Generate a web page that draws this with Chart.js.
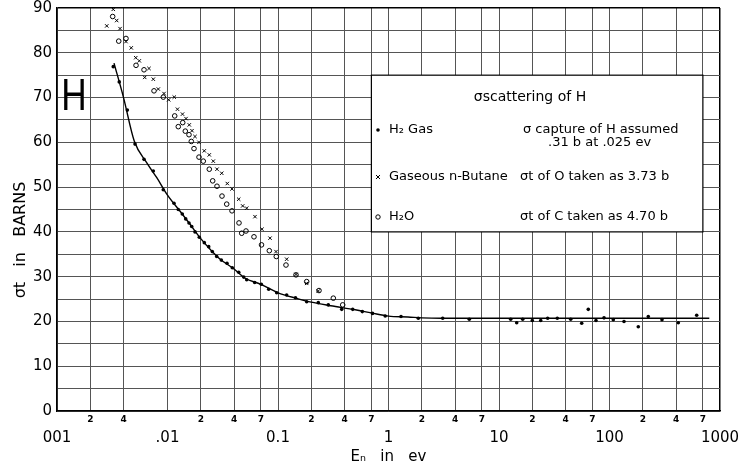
<!DOCTYPE html>
<html>
<head>
<meta charset="utf-8">
<script src="https://cdn.jsdelivr.net/npm/chart.js@4.4.1/dist/chart.umd.min.js"></script>
<style>
  html, body { margin: 0; padding: 0; background: #fff; }
</style>
</head>
<body>
<canvas id="sigma-h" width="744" height="466"></canvas>

<script>
// H2 gas (dots)
const h2Energy = [0.00323, 0.00366, 0.00433, 0.00508, 0.00613, 0.00744, 0.00916, 0.01145, 0.01252, 0.01361,
  0.01461, 0.01565, 0.01656, 0.01774, 0.0194, 0.02153, 0.0236, 0.02543, 0.02788, 0.03069,
  0.03454, 0.03858, 0.0441, 0.04893, 0.05208, 0.06152, 0.07063, 0.08237, 0.09732, 0.1198,
  0.144, 0.1818, 0.2315, 0.2852, 0.3771, 0.4743, 0.5794, 0.7165, 0.9335, 1.298,
  1.861, 3.094, 5.384, 12.76, 14.46, 16.39, 20.02, 23.85, 27.58, 33.7,
  44.56, 56.03, 64.29, 75.47, 89.19, 108.2, 135.3, 182.2, 224.4, 298.6, 419.4, 615.2];
const h2Sigma = [76.9, 73.5, 67.2, 59.6, 56.2, 53.6, 49.4, 46.4, 45.0, 44.0,
  42.9, 42.0, 41.2, 40.0, 38.8, 37.6, 36.7, 35.6, 34.5, 33.7,
  33.0, 32.0, 31.0, 29.9, 29.3, 28.7, 28.3, 27.2, 26.4, 25.9,
  25.3, 24.4, 24.2, 23.7, 22.7, 22.7, 22.2, 21.8, 21.2, 21.1,
  20.7, 20.7, 20.5, 20.5, 19.7, 20.5, 20.2, 20.2, 20.7, 20.7,
  20.5, 19.6, 22.7, 20.2, 20.8, 20.4, 20.0, 18.8, 21.1, 20.4, 19.7, 21.4];

// gaseous n-butane (crosses)
const butaneEnergy = [0.00282, 0.00323, 0.00347, 0.00372, 0.00421, 0.0047, 0.00516, 0.00556, 0.00622, 0.0068,
  0.00744, 0.00826, 0.0093, 0.01025, 0.01152, 0.01231, 0.01367, 0.01471, 0.01575, 0.01666,
  0.01774, 0.01928, 0.02153, 0.02389, 0.02597, 0.02805, 0.03095, 0.03475, 0.03834, 0.0441,
  0.0479, 0.05208, 0.06192, 0.07166, 0.08467, 0.09592, 0.1198, 0.1455, 0.1818, 0.2315];
const butaneSigma = [86.0, 89.7, 87.2, 85.4, 82.5, 81.1, 78.9, 78.2, 74.5, 76.5,
  74.1, 71.9, 70.9, 69.5, 70.1, 67.4, 66.3, 65.3, 63.9, 62.6,
  61.3, 60.0, 58.1, 57.2, 55.8, 54.0, 53.1, 50.8, 49.6, 47.3,
  45.8, 45.3, 43.4, 40.6, 38.6, 35.6, 33.9, 30.5, 28.5, 26.8];

// H2O (open circles)
const waterEnergy = [0.00319, 0.00362, 0.00421, 0.00519, 0.00613, 0.00755, 0.00916, 0.01162, 0.01252, 0.01373,
  0.01449, 0.01565, 0.01642, 0.01737, 0.01928, 0.02108, 0.02389, 0.02564, 0.02805, 0.03113,
  0.03434, 0.03834, 0.04437, 0.04693, 0.05133, 0.06063, 0.07092, 0.08345, 0.09651, 0.1181,
  0.1455, 0.1818, 0.235, 0.3166, 0.385];
const waterSigma = [88.1, 82.6, 83.2, 77.2, 76.2, 71.5, 70.1, 65.9, 63.5, 64.4,
  62.5, 61.7, 60.2, 58.6, 56.7, 55.8, 54.0, 51.4, 50.2, 48.0,
  46.2, 44.7, 42.0, 39.7, 40.2, 38.9, 37.1, 35.8, 34.5, 32.6,
  30.4, 28.9, 26.9, 25.2, 23.7];

// hand-drawn curve through the H2 points
const fitEnergy = [0.00328, 0.004, 0.005, 0.0065, 0.008, 0.01, 0.013, 0.016, 0.02, 0.025, 0.03, 0.04, 0.05, 0.07,
  0.1, 0.15, 0.2, 0.3, 0.5, 0.7, 1, 1.5, 2, 3, 10, 100, 800];
const fitSigma = [77.7, 70.0, 60.3, 55.4, 52.1, 48.2, 44.6, 41.7, 38.5, 35.8, 33.9, 31.7, 29.7, 28.3,
  26.4, 25.1, 24.3, 23.5, 22.6, 21.9, 21.2, 21.0, 20.8, 20.7, 20.7, 20.7, 20.7];

// axis ticks
const gridEnergy = [0.001, 0.002, 0.004, 0.01, 0.02, 0.04, 0.07, 0.1, 0.2, 0.4, 0.7, 1, 2, 4, 7,
  10, 20, 40, 70, 100, 200, 400, 700, 1000];
const decadeEnergy = [0.001, 0.01, 0.1, 1, 10, 100, 1000];
const decadeLabels = ['001', '.01', '0.1', '1', '10', '100', '1000'];

const pairs = (xs, ys) => xs.map((x, i) => ({x: x, y: ys[i]}));

// white note box with the legend, plus the big "H"
const noteBox = {
  id: 'noteBox',
  beforeDatasetsDraw(chart) {
    const {ctx, scales: {x, y}} = chart;
    const l = x.getPixelForValue(0.7), r = x.getPixelForValue(700);
    const t = y.getPixelForValue(75), b = y.getPixelForValue(40);
    ctx.save();
    ctx.fillStyle = '#fff';
    ctx.fillRect(l, t, r - l, b - t);
    ctx.strokeStyle = '#000';
    ctx.lineWidth = 1.2;
    ctx.strokeRect(l, t, r - l, b - t);

    ctx.fillStyle = '#000';
    ctx.textBaseline = 'middle';
    ctx.font = '14px "DejaVu Sans"';
    ctx.textAlign = 'center';
    ctx.fillText('σscattering of H', 530, 97);

    ctx.textAlign = 'left';
    ctx.font = '13px "DejaVu Sans"';
    ctx.fillText('H₂ Gas', 389, 130);
    ctx.fillText('σ capture of H assumed', 523, 130);
    ctx.fillText('.31 b at .025 ev', 548, 143);
    ctx.fillText('Gaseous n-Butane', 389, 177);
    ctx.fillText('σt of O taken as 3.73 b', 520, 177);
    ctx.fillText('H₂O', 389, 217);
    ctx.fillText('σt of C taken as 4.70 b', 520, 217);

    // legend markers
    ctx.beginPath();
    ctx.arc(378, 130, 1.8, 0, Math.PI * 2);
    ctx.fill();
    ctx.lineWidth = 1;
    ctx.beginPath();
    ctx.moveTo(376, 175); ctx.lineTo(380, 179);
    ctx.moveTo(380, 175); ctx.lineTo(376, 179);
    ctx.stroke();
    ctx.beginPath();
    ctx.arc(378, 217, 2.2, 0, Math.PI * 2);
    ctx.stroke();

    // big H
    ctx.font = '44px "Liberation Sans"';
    ctx.textAlign = 'center';
    ctx.translate(74, 98);
    ctx.scale(0.8, 1);
    ctx.fillText('H', 0, 0);
    ctx.restore();
  }
};

new Chart(document.getElementById('sigma-h'), {
  type: 'scatter',
  data: {
    datasets: [
      {
        label: 'fit',
        type: 'line',
        data: pairs(fitEnergy, fitSigma),
        borderColor: '#000',
        borderWidth: 1.4,
        pointRadius: 0,
        cubicInterpolationMode: 'monotone',
        fill: false
      },
      {
        label: 'H₂ Gas',
        data: pairs(h2Energy, h2Sigma),
        pointStyle: 'circle',
        pointRadius: 1.8,
        backgroundColor: '#000',
        borderColor: '#000',
        borderWidth: 0
      },
      {
        label: 'Gaseous n-Butane',
        data: pairs(butaneEnergy, butaneSigma),
        pointStyle: 'crossRot',
        pointRadius: 2.4,
        borderColor: '#000',
        borderWidth: 1
      },
      {
        label: 'H₂O',
        data: pairs(waterEnergy, waterSigma),
        pointStyle: 'circle',
        pointRadius: 2.3,
        backgroundColor: 'rgba(255,255,255,0)',
        borderColor: '#000',
        borderWidth: 1
      }
    ]
  },
  options: {
    responsive: false,
    animation: false,
    layout: { padding: { top: 8, right: 24, left: 0, bottom: 0 } },
    plugins: {
      legend: { display: false },
      tooltip: { enabled: false }
    },
    scales: {
      x: {
        type: 'logarithmic',
        position: 'bottom',
        weight: 0,
        min: 0.001,
        max: 1000,
        afterBuildTicks: (axis) => { axis.ticks = gridEnergy.map(v => ({value: v})); },
        afterFit: (axis) => { axis.height = 18; },
        grid: {
          color: (c) => (c.tick && c.tick.value === 1000) ? '#000' : '#555',
          lineWidth: (c) => (c.tick && c.tick.value === 1000) ? 1.5 : 1,
          drawTicks: false
        },
        border: { color: '#000', width: 1.5 },
        ticks: {
          autoSkip: false,
          maxRotation: 0,
          padding: 3,
          color: '#000',
          font: { family: 'DejaVu Sans', size: 9, weight: 'bold' },
          callback: (v) => decadeEnergy.includes(v) ? '' : String(Number(v.toPrecision(1))).replace(/^0\.0*|0+$/g, '').replace('.', '')
        }
      },
      x2: {
        type: 'logarithmic',
        position: 'bottom',
        weight: 1,
        min: 0.001,
        max: 1000,
        afterBuildTicks: (axis) => { axis.ticks = decadeEnergy.map(v => ({value: v})); },
        afterFit: (axis) => { axis.height = 37; },
        grid: { display: false, drawTicks: false },
        border: { display: false },
        ticks: {
          autoSkip: false,
          maxRotation: 0,
          padding: 0,
          color: '#000',
          font: { family: 'DejaVu Sans', size: 15 },
          callback: (v) => decadeLabels[decadeEnergy.indexOf(v)]
        },
        title: {
          display: true,
          text: 'Eₙ   in   ev',
          color: '#000',
          padding: 0,
          font: { family: 'DejaVu Sans', size: 15 }
        }
      },
      y: {
        min: 0,
        max: 90,
        afterFit: (axis) => { axis.width = 57; axis.paddingTop = 0; axis.paddingBottom = 0; },
        grid: {
          color: (c) => (c.tick && c.tick.value === 90) ? '#000' : '#555',
          lineWidth: (c) => (c.tick && c.tick.value === 90) ? 1.5 : 1,
          drawTicks: false
        },
        border: { color: '#000', width: 1.5 },
        ticks: {
          stepSize: 5,
          padding: 5,
          color: '#000',
          font: { family: 'DejaVu Sans', size: 15 },
          callback: (v) => v % 10 === 0 ? v : ''
        },
        title: {
          display: true,
          text: 'σt   in   BARNS' + ' '.repeat(12),
          color: '#000',
          padding: { top: 11, bottom: 0 },
          font: { family: 'DejaVu Sans', size: 16 }
        }
      }
    }
  },
  plugins: [noteBox]
});
</script>
</body>
</html>
